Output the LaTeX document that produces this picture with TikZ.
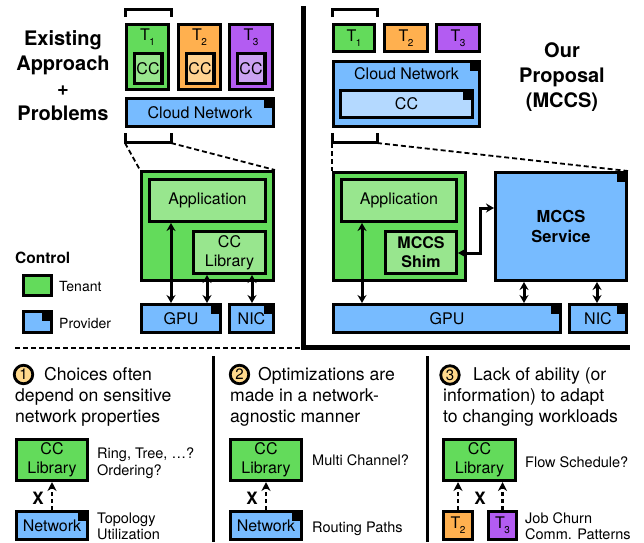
\documentclass[tikz,border=0pt]{standalone}
\usepackage{fontspec}
\setmainfont{TeX Gyre Heros}
\usetikzlibrary{arrows.meta}
\definecolor{cgreen}{HTML}{63DB5B}
\definecolor{lgreen}{HTML}{98E68E}
\definecolor{corange}{HTML}{FFB04F}
\definecolor{lorange}{HTML}{FFD290}
\definecolor{cpurple}{HTML}{B35CF2}
\definecolor{lpurple}{HTML}{CBA2F2}
\definecolor{cblue}{HTML}{77BBFF}
\definecolor{lblue}{HTML}{B4D9FF}
\definecolor{cyel}{HTML}{FFD98C}
\newcommand{\fsz}[1]{\fontsize{#1}{#1}\selectfont}
\newcommand{\Tn}[1]{T\kern-0.03em\raisebox{-0.3em}{\fontsize{10}{10}\selectfont #1}}
\begin{document}
\begin{tikzpicture}[x=1pt,y=-1pt,
  bx/.style={draw=black, line width=3.4pt, inner sep=0pt, align=center,
    font=\fontsize{16}{19}\selectfont},
  sz/.style 2 args={minimum width=#1pt-3.4pt, minimum height=#2pt-3.4pt},
  crn/.style={path picture={\fill[black] (path picture bounding box.north east) rectangle ++(-9pt,-9pt);}},
  dbl/.style={line width=3pt, line join=miter, {Stealth[length=8pt,width=9pt]}-{Stealth[length=8pt,width=9pt]}},
  dsh/.style={line width=2.6pt, dash pattern=on 4pt off 3pt, -{Stealth[length=9pt,width=9pt]}},
  zoomline/.style={line width=1.8pt, dash pattern=on 5pt off 3pt},
  brk/.style={line width=3pt, line join=miter},
  head/.style={font=\fontsize{20}{25}\selectfont\bfseries, align=center},
  txt/.style={font=\fontsize{17.6}{21}\selectfont, anchor=base west, inner sep=0pt},
  side/.style={font=\fontsize{14.5}{17}\selectfont, anchor=base west, inner sep=0pt},
  num/.style={circle, draw=black, line width=2.8pt, fill=cyel, inner sep=0pt, minimum size=18.5pt, font=\fsz{15}},
  xmark/.style={font=\fsz{17}\bfseries, inner sep=0pt},
  lbl/.style={font=\fsz{16}, inner sep=0pt}
]
\useasboundingbox (0,0) rectangle (644,542);

% ---------- dividers ----------
\draw[line width=5pt, line join=miter] (303.5,6) -- (303.5,347.5) -- (630,347.5);
\draw[zoomline] (15,348) -- (300,348);
\draw[line width=3pt] (213,356) -- (213,542);
\draw[line width=3pt] (427.5,356) -- (427.5,542);

% ---------- left top ----------
\node[head] (headL) at (63,76) {Existing\\Approach\\+\\Problems};
\draw[brk] (125,17) -- (125,9) -- (171,9) -- (171,17);
\node[bx, fill=cgreen, sz={45}{68}] (t1) at (147.5,57) {};
\node[lbl] (t1l) at (147.5,37) {\Tn1};
\node[bx, fill=lgreen, sz={31}{33}] (cc1) at (148,68.5) {CC};
\node[bx, fill=corange, sz={45}{68}] (t2) at (199.5,57) {};
\node[lbl] (t2l) at (199.5,37) {\Tn2};
\node[bx, fill=lorange, sz={31}{33}] (cc2) at (200,68.5) {CC};
\node[bx, fill=cpurple, sz={46}{68}] (t3) at (251,57) {};
\node[lbl] (t3l) at (251,37) {\Tn3};
\node[bx, fill=lpurple, sz={31}{33}] (cc3) at (251,68.5) {CC};
\node[bx, crn, fill=cblue, sz={150}{31}] (cn1) at (200,112.5) {Cloud Network};
\draw[brk] (125,133) -- (125,142) -- (171,142) -- (171,133);
\coordinate (bl1) at (125,143);
\coordinate (br1) at (171,143);

\node[bx, fill=cgreen, sz={135}{112}] (g1) at (207.5,226) {};
\draw[zoomline] (bl1) -- (g1.north west);
\draw[zoomline] (br1) -- (g1.north east);
\node[bx, fill=lgreen, sz={119}{45}] (app1) at (207.5,200.5) {Application};
\node[bx, fill=lgreen, sz={75}{45}] (lib1) at (229.5,252.5) {CC\\Library};
\node[bx, crn, fill=cblue, sz={82}{31}] (gpu1) at (181,318.5) {GPU};
\node[bx, crn, fill=cblue, sz={47}{31}] (nic1) at (251.5,318.5) {NIC};
\draw[dbl] (app1.south -| 171,0) -- (gpu1.north -| 171,0);
\draw[dbl] (lib1.south -| 207,0) -- (gpu1.north -| 207,0);
\draw[dbl] (lib1.south -| 252,0) -- (nic1.north -| 252,0);

% legend
\node[font=\fontsize{15.5}{18}\selectfont\bfseries, anchor=west, inner sep=0pt] (ctl) at (15,258) {Control};
\node[bx, fill=cgreen, sz={31}{23}] (legT) at (37.5,285.5) {};
\node[font=\fsz{14}, anchor=west, inner sep=0pt] (legTt) at (59,286) {Tenant};
\node[bx, crn, fill=cblue, sz={31}{24}] (legP) at (37.5,322) {};
\node[font=\fsz{14}, anchor=west, inner sep=0pt] (legPt) at (59,323) {Provider};

% ---------- right top ----------
\node[head] (headR) at (562,77) {Our\\Proposal\\(MCCS)};
\draw[brk] (332,17) -- (332,9) -- (377,9) -- (377,17);
\node[bx, fill=cgreen, sz={44}{30}] (rt1) at (354,38) {\Tn1};
\node[bx, fill=corange, sz={46}{30}] (rt2) at (406,38) {\Tn2};
\node[bx, fill=cpurple, sz={46}{30}] (rt3) at (458,38) {\Tn3};
\node[bx, crn, fill=cblue, sz={149}{68}] (cn2) at (406.5,94) {};
\node[lbl] (cn2l) at (406.5,74) {Cloud Network};
\node[bx, crn, fill=lblue, sz={135}{30}] (cc4) at (406.5,104) {CC};
\draw[brk] (332,133) -- (332,142) -- (377,142) -- (377,133);
\coordinate (bl2) at (332,143);
\coordinate (br2) at (377,143);

\node[bx, fill=cgreen, sz={135}{111}] (g2) at (399.5,226.5) {};
\node[bx, crn, fill=cblue, sz={134}{111}, font=\fontsize{16.5}{20}\selectfont\bfseries] (svc) at (561,226.5) {MCCS\\Service};
\draw[zoomline] (bl2) -- (g2.north west);
\draw[zoomline] (br2) -- (svc.north east);
\node[bx, fill=lgreen, sz={118}{45}] (app2) at (399,200.5) {Application};
\node[bx, fill=lgreen, sz={74}{45}, font=\fontsize{16}{19}\selectfont\bfseries] (shim) at (421,252.5) {MCCS\\Shim};
\node[bx, crn, fill=cblue, sz={230}{31}] (gpu2) at (447,318.5) {GPU};
\node[bx, crn, fill=cblue, sz={60}{31}] (nic2) at (598,318.5) {NIC};
\draw[dbl] (app2.south -| 362,0) -- (gpu2.north -| 362,0);
\draw[dbl] (svc.south -| 524,0) -- (gpu2.north -| 524,0);
\draw[dbl] (svc.south -| 597,0) -- (nic2.north -| 597,0);
\draw[dbl] (shim.east |- 0,253) -- (480,253) -- (480,208) -- (svc.west |- 0,208);

% ---------- bottom panel 1 ----------
\node[num] (n1) at (23.5,374.5) {1};
\node[txt] (p1a) at (44,380) {Choices often};
\node[txt] (p1b) at (15,401) {depend on sensitive};
\node[txt] (p1c) at (15,422) {network properties};
\node[bx, fill=cgreen, sz={74}{44}] (lib3) at (52,460) {CC\\Library};
\node[bx, crn, fill=cblue, sz={74}{31}] (net3) at (52,525.5) {Network};
\draw[dsh] (net3.north) -- (lib3.south);
\node[xmark] (x1) at (38,498) {X};
\node[side] (s1a) at (97,458) {Ring, Tree, …?};
\node[side] (s1b) at (97,475) {Ordering?};
\node[side] (s1c) at (97,523) {Topology};
\node[side] (s1d) at (97,539) {Utilization};

% ---------- bottom panel 2 ----------
\node[num] (n2) at (239.5,374.5) {2};
\node[txt] (p2a) at (258,380) {Optimizations are};
\node[txt] (p2b) at (230,401) {made in a network-};
\node[txt] (p2c) at (230,422) {agnostic manner};
\node[bx, fill=cgreen, sz={74}{44}] (lib4) at (266,460) {CC\\Library};
\node[bx, crn, fill=cblue, sz={74}{31}] (net4) at (266,525.5) {Network};
\draw[dsh] (net4.north) -- (lib4.south);
\node[xmark] (x2) at (252,498) {X};
\node[side] (s2a) at (312,465) {Multi Channel?};
\node[side] (s2b) at (312,532) {Routing Paths};

% ---------- bottom panel 3 ----------
\node[num] (n3) at (450,375) {3};
\node[txt] (p3a) at (473,380) {Lack of ability (or};
\node[txt] (p3b) at (443,401) {information) to adapt};
\node[txt] (p3c) at (443,422) {to changing workloads};
\node[bx, fill=cgreen, sz={75}{44}] (lib5) at (479.5,460) {CC\\Library};
\node[bx, fill=corange, sz={32}{31}] (bt2) at (458,525.5) {\Tn2};
\node[bx, fill=cpurple, sz={31}{31}] (bt3) at (502.5,525.5) {\Tn3};
\draw[dsh] (bt2.north) -- (bt2.north |- lib5.south);
\draw[dsh] (bt3.north) -- (bt3.north |- lib5.south);
\node[xmark] (x3) at (480,498) {X};
\node[side] (s3a) at (525,467) {Flow Schedule?};
\node[side] (s3b) at (525,523) {Job Churn};
\node[side] (s3c) at (525,539) {Comm. Patterns};
\end{tikzpicture}
\end{document}
